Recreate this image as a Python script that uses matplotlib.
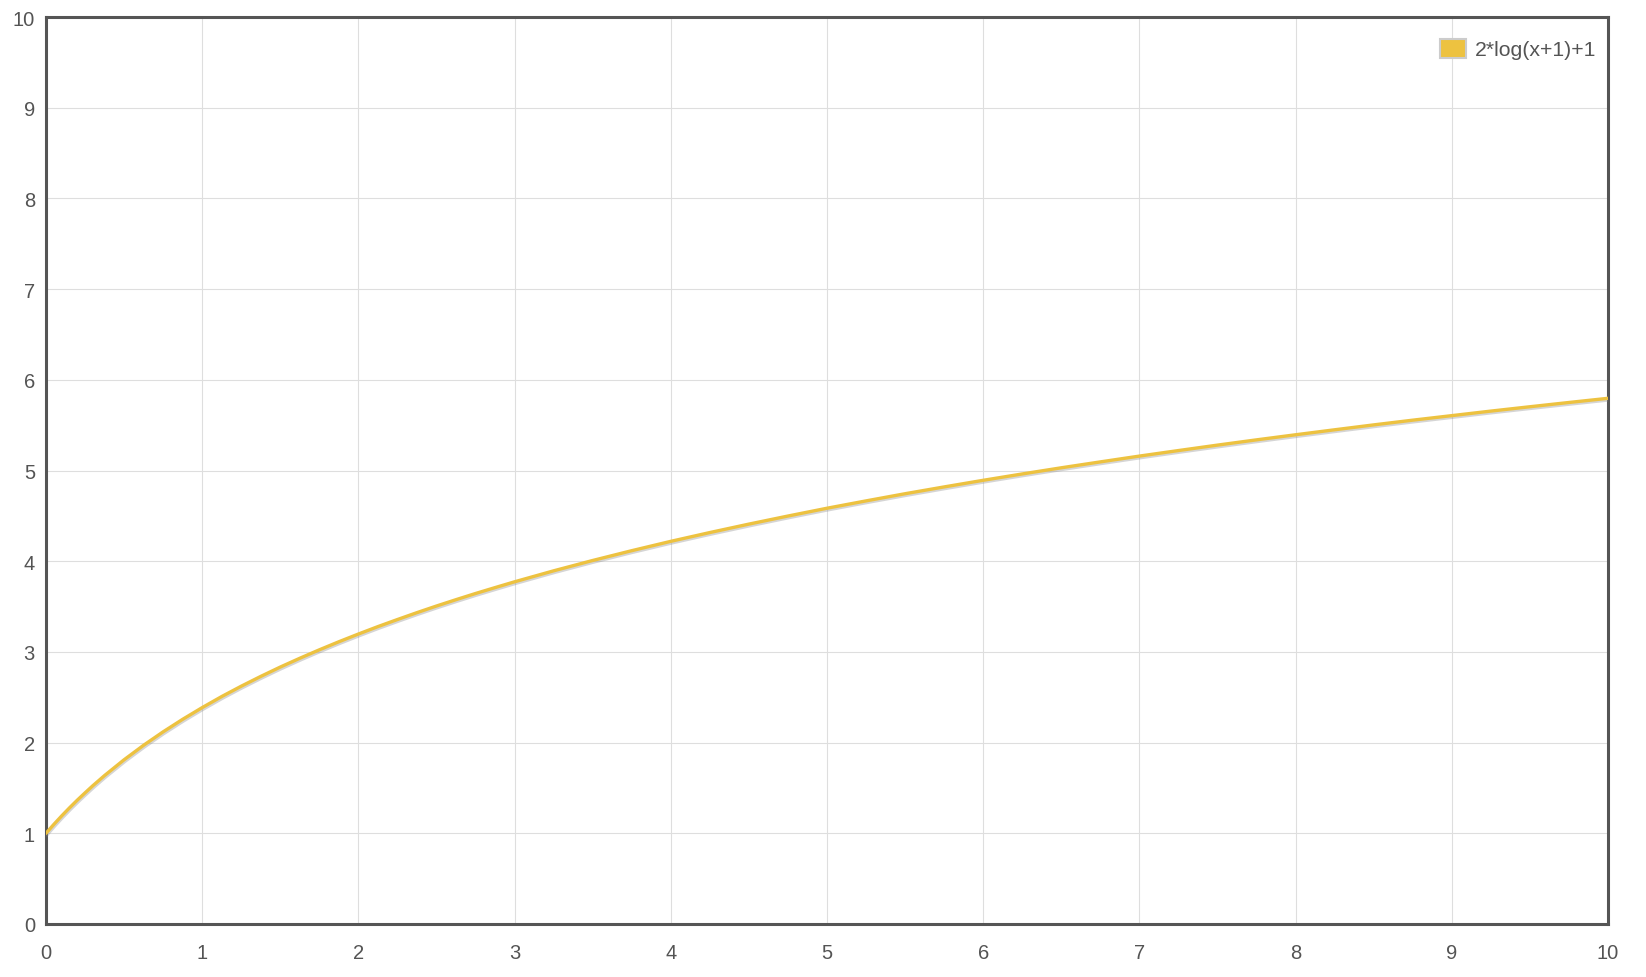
import matplotlib
matplotlib.use('Agg')
import matplotlib.pyplot as plt
import matplotlib.patheffects as pe
from matplotlib.patches import Patch

# data
x_vals = [0, 0.05, 0.1, 0.15, 0.2, 0.25, 0.3, 0.375, 0.5, 0.625, 0.75, 0.875, 1,
          1.125, 1.25, 1.375, 1.5, 1.625, 1.75, 1.875, 2, 2.125, 2.25, 2.375, 2.5,
          2.625, 2.75, 2.875, 3, 3.25, 3.5, 3.75, 4, 4.25, 4.5, 4.75, 5, 5.25, 5.5,
          5.75, 6, 6.25, 6.5, 6.75, 7, 7.25, 7.5, 7.75, 8, 8.25, 8.5, 8.75, 9, 9.25,
          9.5, 9.75, 10]
y_vals = [1.000, 1.098, 1.191, 1.280, 1.365, 1.446, 1.525, 1.637, 1.811, 1.971,
          2.119, 2.257, 2.386, 2.508, 2.622, 2.730, 2.833, 2.930, 3.023, 3.112,
          3.197, 3.279, 3.357, 3.433, 3.506, 3.576, 3.644, 3.709, 3.773, 3.894,
          4.008, 4.116, 4.219, 4.316, 4.409, 4.498, 4.584, 4.665, 4.744, 4.819,
          4.892, 4.962, 5.030, 5.095, 5.159, 5.220, 5.280, 5.338, 5.394, 5.449,
          5.503, 5.555, 5.605, 5.655, 5.703, 5.750, 5.796]
series_label = '2*log(x+1)+1'
x_ticks = list(range(0, 11))
y_ticks = list(range(0, 11))

line_color = '#edc240'
text_color = '#545454'

plt.rcParams['font.family'] = ['Liberation Sans', 'DejaVu Sans']

fig = plt.figure(figsize=(16.46, 9.78), dpi=100)
ax = fig.add_axes([46 / 1646, 53 / 978, 1562 / 1646, 907 / 978])

ax.plot(x_vals, y_vals, color=line_color, lw=2.4, solid_capstyle='round',
        solid_joinstyle='round',
        path_effects=[pe.SimpleLineShadow(offset=(0.6, -1.2), shadow_color='#888888', alpha=0.35),
                      pe.Normal()], zorder=3)

ax.set_xlim(0, 10)
ax.set_ylim(0, 10)
ax.set_xticks(x_ticks)
ax.set_yticks(y_ticks)
ax.grid(True, color='#dedede', lw=0.8)
ax.set_axisbelow(True)
ax.tick_params(length=0, labelsize=14.5, labelcolor=text_color)
ax.tick_params(axis='x', pad=14)
ax.tick_params(axis='y', pad=8)
for s in ax.spines.values():
    s.set_color('#555555')
    s.set_linewidth(2.2)

handle = Patch(facecolor=line_color, edgecolor='#cccccc', linewidth=1.5)
fig.legend([handle], [series_label], loc='center right', bbox_to_anchor=(1605 / 1646, 1 - 50 / 978),
           frameon=False, fontsize=15.3, labelcolor=text_color, handlelength=1.2,
           handleheight=1.0, handletextpad=0.45, borderaxespad=0)

plt.savefig('out.png', dpi=100)
plt.close()
